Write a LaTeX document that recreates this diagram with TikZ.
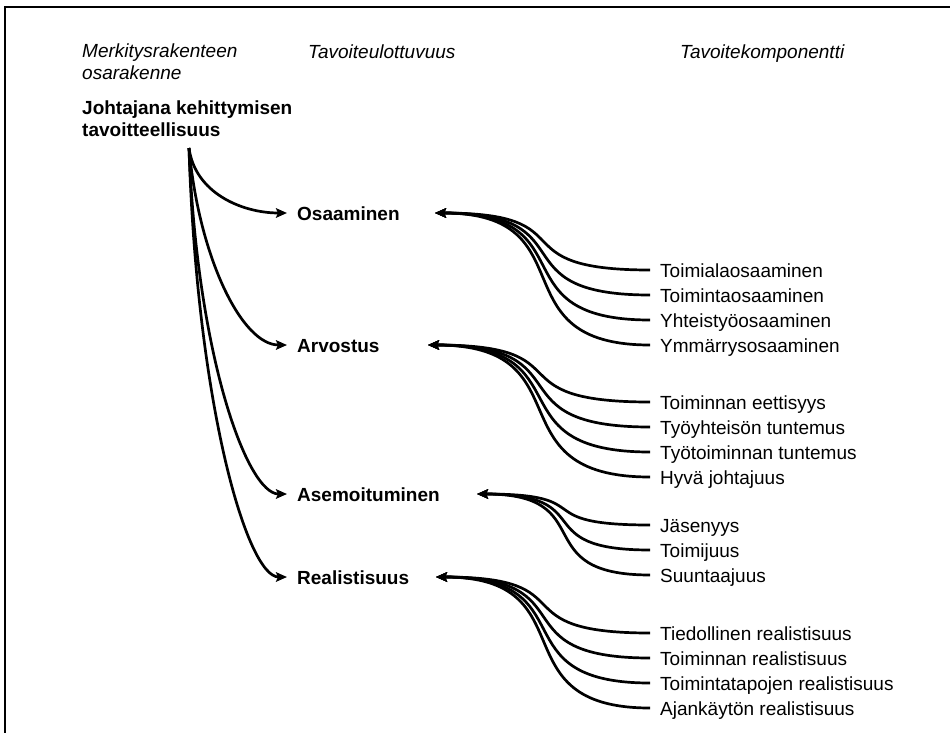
\documentclass[tikz,border=0pt]{standalone}
\usepackage{fontspec}
\setmainfont{Liberation Sans}
\usetikzlibrary{arrows.meta}
\begin{document}
\begin{tikzpicture}[x=1pt,y=-1pt,
  every node/.style={inner sep=0pt, font=\fontsize{19}{22}\selectfont},
  heading/.style={anchor=base west, align=left, font=\fontsize{19}{22}\selectfont\itshape},
  goal/.style={anchor=base west, align=left, font=\fontsize{19}{22}\selectfont\bfseries},
  dim/.style={anchor=west, inner xsep=10pt, text height=14pt, text depth=0pt,
    font=\fontsize{19}{22}\selectfont\bfseries},
  comp/.style={anchor=west, inner xsep=10pt, text height=15pt, text depth=0pt},
  link/.style={line width=2.7pt, -{Stealth[length=11pt,width=9.5pt,inset=2pt]}},
  frame/.style={line width=1.8pt}]
\useasboundingbox (0,0) rectangle (950,733);

% open frame: top and left edges
\draw[frame] (5,733) -- (5,7) -- (950,7);

% column headings (base anchor sits on the last line)
\node[heading] (h1) at (82,80) {Merkitysrakenteen\\osarakenne};
\node[heading] (h2) at (308,58.5) {Tavoiteulottuvuus};
\node[heading] (h3) at (680,58.5) {Tavoitekomponentti};

% main concept
\node[goal] (goal) at (82,137) {Johtajana kehittymisen\\tavoitteellisuus};
\coordinate (root) at (189,148);

% dimensions
\node[dim] (osa) at (287,213) {Osaaminen};
\node[dim] (arv) at (287,345) {Arvostus};
\node[dim] (ase) at (287,494) {Asemoituminen};
\node[dim] (rea) at (287,577) {Realistisuus};

\coordinate (osa-in) at (435,213);
\coordinate (arv-in) at (428,345);
\coordinate (ase-in) at (477,494);
\coordinate (rea-in) at (436,577);

% components
\node[comp] (c11) at (650,270) {Toimialaosaaminen};
\node[comp] (c12) at (650,295) {Toimintaosaaminen};
\node[comp] (c13) at (650,320) {Yhteistyöosaaminen};
\node[comp] (c14) at (650,345) {Ymmärrysosaaminen};

\node[comp] (c21) at (650,402) {Toiminnan eettisyys};
\node[comp] (c22) at (650,427) {Työyhteisön tuntemus};
\node[comp] (c23) at (650,452) {Työtoiminnan tuntemus};
\node[comp] (c24) at (650,477) {Hyvä johtajuus};

\node[comp] (c31) at (650,525) {Jäsenyys};
\node[comp] (c32) at (650,550) {Toimijuus};
\node[comp] (c33) at (650,575) {Suuntaajuus};

\node[comp] (c41) at (650,633) {Tiedollinen realistisuus};
\node[comp] (c42) at (650,658) {Toiminnan realistisuus};
\node[comp] (c43) at (650,683) {Toimintatapojen realistisuus};
\node[comp] (c44) at (650,708) {Ajankäytön realistisuus};

% main concept to dimensions
\draw[link] (root) .. controls +(6,45) and +(-45,0) .. (osa.west);
\draw[link] (root) .. controls +(10,110) and +(-45,0) .. (arv.west);
\draw[link] (root) .. controls +(8,208) and +(-40,0) .. (ase.west);
\draw[link] (root) .. controls +(8,257) and +(-40,0) .. (rea.west);

% components to dimensions
\foreach \c in {c11,c12,c13,c14}
  \draw[link] (\c.west) .. controls +(-155,0) and +(155,0) .. (osa-in);
\foreach \c in {c21,c22,c23,c24}
  \draw[link] (\c.west) .. controls +(-160,0) and +(160,0) .. (arv-in);
\foreach \c in {c31,c32,c33}
  \draw[link] (\c.west) .. controls +(-125,0) and +(125,0) .. (ase-in);
\foreach \c in {c41,c42,c43,c44}
  \draw[link] (\c.west) .. controls +(-154,0) and +(154,0) .. (rea-in);
\end{tikzpicture}
\end{document}
